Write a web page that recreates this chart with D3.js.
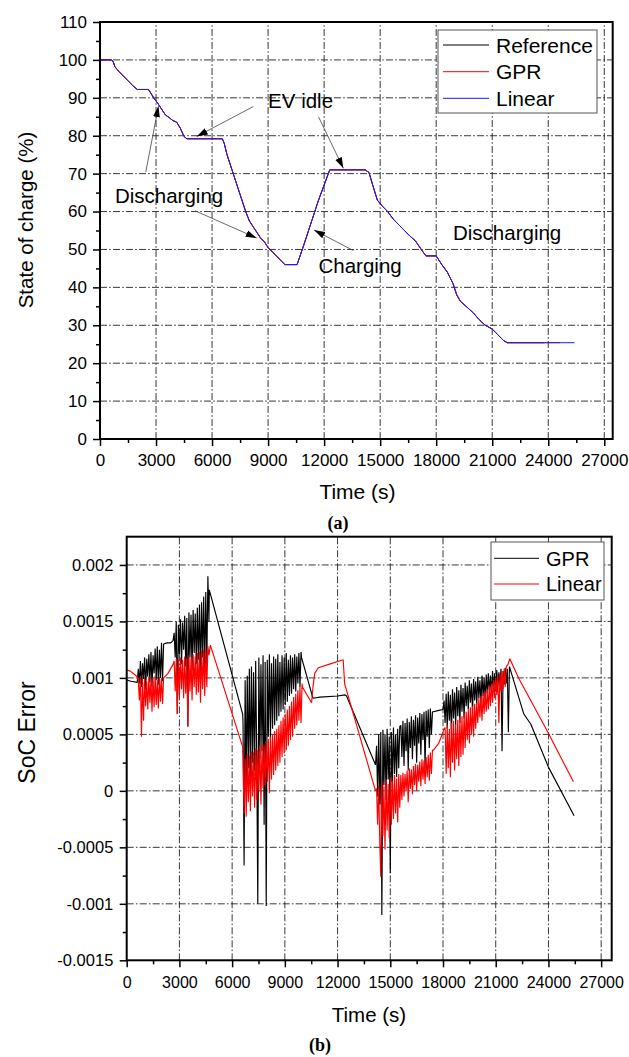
<!DOCTYPE html>
<html>
<head>
<meta charset="utf-8">
<script src="https://cdn.jsdelivr.net/npm/d3@7"></script>
<style>
  body { margin: 0; background: #fff; }
  svg { display: block; }
  text { font-family: "Liberation Sans", Arial, sans-serif; fill: #000; }
</style>
</head>
<body>
<svg id="chart" width="629" height="1057"></svg>
<script>
// ---------- (a) state of charge ----------
const socTime = [0,600,700,800,1000,1200,1400,1600,1800,2000,2600,2750,2900,3100,3300,3500,3700,3900,4100,4300,4500,4650,
  6550,6650,6800,7000,7200,7400,7600,7800,8000,8200,8400,8600,8800,9000,9300,9600,9900,10550,10900,11300,11700,12000,12300,
  14200,14400,14600,14850,15100,15400,15700,16000,16300,16600,16900,17200,17450,18000,18300,18600,18900,19100,19300,19600,
  20000,20300,20600,21000,21300,21600,21800,23800,24640,25400];
const socRef = [100,100,99.6,98.2,97,96,95,94,93,92.2,92.2,91,89.8,88.5,87,85.5,84.8,84,83.6,82,79.8,79.2,
  79.2,78,75,72,69,66,63,60,57.5,56,54.5,53,52,50.5,49,47.5,46,46,51,57,63,67,71,
  71,70.3,67,63,61.5,60,58,56.5,55,53.5,52.2,50,48.3,48.3,46,44,41,38,36.3,35,
  33.2,31.5,30.1,29,27.5,26,25.4,25.4];
const socGpr = [100,100,99.6,98.2,97,96,95,94,93,92.2,92.2,91,89.8,88.5,87,85.5,84.8,84,83.6,82,79.8,79.2,
  79.2,78,75,72,69,66,63,60,57.5,56,54.5,53,52,50.5,49,47.5,46,46,51,57,63,67,71,
  71,70.3,67,63,61.5,60,58,56.5,55,53.5,52.2,50,48.3,48.3,46,44,41,38,36.3,35,
  33.2,31.5,30.1,29,27.5,26,25.4,25.4,25.4];
const socLinear = [100,100,99.6,98.2,97,96,95,94,93,92.2,92.2,91,89.8,88.5,87,85.5,84.8,84,83.6,82,79.8,79.2,
  79.2,78,75,72,69,66,63,60,57.5,56,54.5,53,52,50.5,49,47.5,46,46,51,57,63,67,71,
  71,70.3,67,63,61.5,60,58,56.5,55,53.5,52.2,50,48.3,48.3,46,44,41,38,36.3,35,
  33.2,31.5,30.1,29,27.5,26,25.4,25.4,25.4,25.4];
const socXTicks = [0,3000,6000,9000,12000,15000,18000,21000,24000,27000];
const socYTicks = [0,10,20,30,40,50,60,70,80,90,100,110];
// labels [text, t, soc] and arrows [t0, soc0, t1, soc1]
const socLabels = [["EV idle",9000,87.3],["Discharging",800,62.3],["Charging",11700,43.7],["Discharging",18900,52.5]];
const socArrows = [[2450,70.4,3130,87.8],[5090,60.2,8390,53.0],[8210,87.7,5180,79.8],[11700,85.0,13030,71.4],[13570,49.7,11460,55.1]];

// ---------- (b) SoC error, values in 1e-5 ----------
// bursts are sampled every 60 s starting at their first time
const gprLead = [[0,98],[250,97],[600,96]];
const gprBurst1 = [108,95,115,92,113,99,118,90,117,101,121,96,123,92,120,104,126,98,128,94,125,100,131,97];
const gprMid1 = [[2100,130],[2300,131],[2500,131],[2640,133]];
const gprBurst2 = [140,118,150,68,147,121,152,112,149,125,155,110,153,57,158,118,156,106,160,122,157,112,162,116,165,104,
  167,118,172,108,176,112,190,150];
const gprMid2 = [[4700,178],[6600,68]];
const gprBurst3 = [60,-66,98,5,102,20,108,12,110,25,105,18,115,30,-100,118,28,112,35,120,-30,114,-102,116,48,121,45,113,55,
  119,58,117,62,121,66,114,70,120,72,118,76,122,79,116,84,120,86,118,90,121,88,119,95,122,92,123];
const gprMid3 = [[9950,118],[10600,82],[11000,83],[12000,84],[12420,85],[12510,84],[14160,23]];
const gprBurst4 = [40,-5,50,-12,52,-110,54,5,50,-8,55,10,48,-73,52,8,56,15,50,12,55,20,57];
const gprBurst5 = [58,30,62,22,60,35,64,18,61,38,66,28,63,40,67,25,65,42,69,32,68,45,70,20,71,48,72,38,73,50,70];
const gprMid4 = [[17460,70],[17700,71],[18000,72]];
const gprBurst6 = [80,60,86,55,88,62,85,50,90,64,87,58,92,66,89,60,94,70,91,64,
  96,75,93,72,98,78,95,70,99,80,97,76,101,82,98,78,102,84,100,80,
  103,86,104,88,102,85,106,90,104,88,107,92,105,94,108,35,106,94,109,95,108,52];
const gprTail = [[21780,110],[22600,68],[23000,59],[24000,21],[25460,-22]];

const linLead = [[0,107],[200,106],[450,103],[600,101]];
const linBurst1 = [98,80,101,48,99,62,100,75,97,72,101,78,99,70,100,74,102,76,98,73,101,79,100,77];
const linMid1 = [[2100,100],[2350,104],[2640,112]];
const linBurst2 = [115,88,117,68,116,84,118,90,116,82,119,86,117,57,120,88,118,80,121,92,119,85,122,87,123,78,124,90,
  125,84,126,92,128,120];
const linMid2 = [[4760,129],[6600,39]];
const linBurst3 = [30,-20,28,-23,33,-10,31,-18,35,-5,34,-15,38,-8,36,0,40,-12,42,2,41,5,44,8,
  46,-2,48,10,50,14,53,18,55,22,58,25,62,30,65,33,68,36,72,40,75,45,79,48,83,55,86,58,89,62,92,60,95];
const linMid3 = [[10000,92],[10520,78],[10600,92],[10700,104],[10900,109],[11500,112],[12320,116],[12400,95],[14160,0]];
const linBurst4 = [2,-30,5,-45,-76,8,-40,4,-52,10,-35,6,-42,12,-30,9,-25,14,-20,11,-28,15,-15];
const linBurst5 = [14,-8,16,-5,15,0,18,-10,20,2,19,-3,22,5,24,0,23,8,26,4,28,10,27,6,30,12,32,9,34,15,36];
const linMid4 = [[17460,36],[17750,42],[18000,52],[18060,55]];
const linBurst6 = [56,15,58,20,55,12,60,25,62,18,59,28,63,22,65,30,66,
  32,68,38,70,45,72,42,74,50,75,48,77,55,78,
  60,82,65,84,62,86,68,88,70,90,72,93,75,95,
  78,98,82,100,85,102,60,104,88,106,90,108,92,110];
const linTail = [[21700,112],[21800,117],[22300,100],[24000,51],[25420,8]];
const errXTicks = [0,3000,6000,9000,12000,15000,18000,21000,24000,27000];
const errYTicks = [-0.0015,-0.001,-0.0005,0,0.0005,0.001,0.0015,0.002];

const burst = (t0, vals) => vals.map((v, i) => [t0 + i * 60, v]);
const gprErr = [].concat(gprLead, burst(660, gprBurst1), gprMid1, burst(2700, gprBurst2), gprMid2,
  burst(6620, gprBurst3), gprMid3, burst(14220, gprBurst4), burst(15600, gprBurst5), gprMid4,
  burst(18060, gprBurst6), gprTail).map(d => [d[0], d[1] * 1e-5]);
const linErr = [].concat(linLead, burst(660, linBurst1), linMid1, burst(2700, linBurst2), linMid2,
  burst(6620, linBurst3), linMid3, burst(14220, linBurst4), burst(15600, linBurst5), linMid4,
  burst(18120, linBurst6), linTail).map(d => [d[0], d[1] * 1e-5]);

const svg = d3.select('#chart');
svg.append('rect').attr('width', 629).attr('height', 1057).attr('fill', '#fff');

const defs = svg.append('defs');
defs.append('marker').attr('id', 'head')
  .attr('markerUnits', 'userSpaceOnUse')
  .attr('markerWidth', 12).attr('markerHeight', 8)
  .attr('refX', 11).attr('refY', 4).attr('orient', 'auto')
  .append('path').attr('d', 'M0,0.5 L11,4 L0,7.5 Z').attr('fill', '#000');

// draws grid and ticks
function axes(g, x, y, xTicks, yTicks, xMinor, yMinor, opt) {
  const [x0, x1] = x.range(), [y0, y1] = y.range();
  const grid = g.append('g').attr('stroke', '#222').attr('stroke-width', 0.9)
    .attr('stroke-dasharray', '7,2.2,1.6,2.2');
  xTicks.filter(v => x(v) > x0 + 1 && x(v) < x1 - 1).forEach(v => {
    grid.append('line').attr('x1', x(v)).attr('x2', x(v)).attr('y1', y0).attr('y2', y1);
  });
  yTicks.filter(v => y(v) < y0 - 1 && y(v) > y1 + 1).forEach(v => {
    grid.append('line').attr('x1', x0).attr('x2', x1).attr('y1', y(v)).attr('y2', y(v));
  });

  const ax = g.append('g').attr('transform', `translate(0,${y0})`)
    .call(d3.axisBottom(x).tickValues(xTicks).tickSize(7).tickPadding(opt.xPad).tickFormat(d3.format('d')));
  ax.append('g').call(d3.axisBottom(x).tickValues(xMinor).tickSize(4).tickFormat(''));
  const ay = g.append('g').attr('transform', `translate(${x0},0)`)
    .call(d3.axisLeft(y).tickValues(yTicks).tickSize(7).tickPadding(opt.yPad).tickFormat(opt.yFmt));
  ay.append('g').call(d3.axisLeft(y).tickValues(yMinor).tickSize(4).tickFormat(''));
  [ax, ay].forEach(a => {
    a.selectAll('.domain').remove();
    a.selectAll('line').attr('stroke', '#000').attr('stroke-width', 1.5);
  });
  ax.selectAll('text').style('font-size', opt.xFont + 'px');
  ay.selectAll('text').style('font-size', opt.yFont + 'px');
  return g;
}

function frame(g, x, y) {
  const [x0, x1] = x.range(), [y0, y1] = y.range();
  g.append('rect').attr('x', x0).attr('y', y1).attr('width', x1 - x0).attr('height', y0 - y1)
    .attr('fill', 'none').attr('stroke', '#000').attr('stroke-width', 2);
}

// ---------- chart (a) ----------
const xA = d3.scaleLinear().domain([0, 27450]).range([100, 612.7]);
const yA = d3.scaleLinear().domain([0, 110]).range([439, 22]);
const gA = svg.append('g');
axes(gA, xA, yA, socXTicks, socYTicks,
  socXTicks.slice(0, -1).map(v => v + 1500), socYTicks.slice(0, -1).map(v => v + 5),
  {xPad: 7.5, yPad: 6, xFont: 17, yFont: 17, yFmt: d3.format('d')});

const lineA = d3.line().x(d => xA(d[0])).y(d => yA(d[1]));
[[socRef, '#000'], [socGpr, '#ff0000'], [socLinear, '#1a1aff']].forEach(([vals, c]) => {
  gA.append('path').datum(vals.map((v, i) => [socTime[i], v]))
    .attr('d', lineA).attr('fill', 'none').attr('stroke', c).attr('stroke-width', 1);
});

socArrows.forEach(a => {
  gA.append('line')
    .attr('x1', xA(a[0])).attr('y1', yA(a[1])).attr('x2', xA(a[2])).attr('y2', yA(a[3]))
    .attr('stroke', '#444').attr('stroke-width', 0.8).attr('marker-end', 'url(#head)');
});
socLabels.forEach(l => {
  gA.append('text').attr('x', xA(l[1])).attr('y', yA(l[2])).style('font-size', '20.5px').text(l[0]);
});
frame(gA, xA, yA);

// legend (a)
const legA = gA.append('g');
legA.append('rect').attr('x', 438).attr('y', 30).attr('width', 159).attr('height', 83)
  .attr('fill', '#fff').attr('stroke', '#555').attr('stroke-width', 1);
[['Reference', '#000', 45], ['GPR', '#ff0000', 71.7], ['Linear', '#1a1aff', 98.3]].forEach(([name, c, yy]) => {
  legA.append('line').attr('x1', 443).attr('x2', 489).attr('y1', yy).attr('y2', yy)
    .attr('stroke', c).attr('stroke-width', 1);
  legA.append('text').attr('x', 496).attr('y', yy + 7.6).style('font-size', '21px').text(name);
});

gA.append('text').attr('x', 357.5).attr('y', 499).attr('text-anchor', 'middle')
  .style('font-size', '21px').text('Time (s)');
gA.append('text').attr('transform', 'translate(33,220) rotate(-90)').attr('text-anchor', 'middle')
  .style('font-size', '20.5px').text('State of charge (%)');
svg.append('text').attr('x', 338).attr('y', 529).attr('text-anchor', 'middle')
  .style('font-family', '"Liberation Serif", "DejaVu Serif", serif').style('font-weight', 'bold')
  .style('font-size', '18px').text('(a)');

// ---------- chart (b) ----------
const xB = d3.scaleLinear().domain([0, 27600]).range([126.7, 611.7]);
const yB = d3.scaleLinear().domain([-0.0015, 0.00225]).range([960.3, 536.7]);
const gB = svg.append('g');
axes(gB, xB, yB, errXTicks, errYTicks,
  errXTicks.slice(0, -1).map(v => v + 1500), errYTicks.slice(0, -1).map(v => v + 0.00025),
  {xPad: 9, yPad: 6.4, xFont: 16, yFont: 16.5, yFmt: d => d === 0 ? '0' : String(+d.toFixed(4))});

const lineB = d3.line().x(d => xB(d[0])).y(d => yB(d[1]));
gB.append('path').datum(gprErr).attr('d', lineB)
  .attr('fill', 'none').attr('stroke', '#000').attr('stroke-width', 1.15).attr('stroke-linejoin', 'bevel');
gB.append('path').datum(linErr).attr('d', lineB)
  .attr('fill', 'none').attr('stroke', '#ff0000').attr('stroke-width', 1.15).attr('stroke-linejoin', 'bevel');
frame(gB, xB, yB);

const legB = gB.append('g');
legB.append('rect').attr('x', 491).attr('y', 542).attr('width', 113).attr('height', 58)
  .attr('fill', '#fff').attr('stroke', '#555').attr('stroke-width', 1);
[['GPR', '#000', 558.3], ['Linear', '#ff0000', 584]].forEach(([name, c, yy]) => {
  legB.append('line').attr('x1', 494).attr('x2', 539).attr('y1', yy).attr('y2', yy)
    .attr('stroke', c).attr('stroke-width', 1);
  legB.append('text').attr('x', 546).attr('y', yy + 7.2).style('font-size', '20px').text(name);
});

gB.append('text').attr('x', 369).attr('y', 1021.5).attr('text-anchor', 'middle')
  .style('font-size', '20.5px').text('Time (s)');
gB.append('text').attr('transform', 'translate(35,732.5) rotate(-90)').attr('text-anchor', 'middle')
  .style('font-size', '23px').text('SoC Error');
svg.append('text').attr('x', 320).attr('y', 1051).attr('text-anchor', 'middle')
  .style('font-family', '"Liberation Serif", "DejaVu Serif", serif').style('font-weight', 'bold')
  .style('font-size', '18px').text('(b)');
</script>
</body>
</html>
